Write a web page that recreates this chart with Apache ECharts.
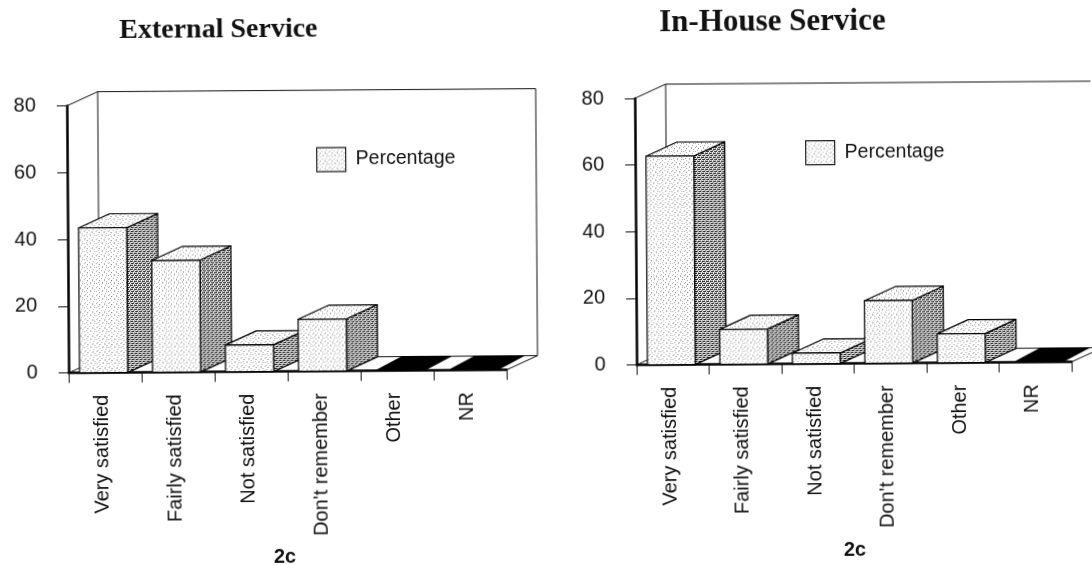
<!DOCTYPE html>
<html><head><meta charset="utf-8">
<style>html,body{margin:0;padding:0;background:#fff;overflow:hidden}#c{width:1092px;height:565px;transform:rotate(-0.4deg);transform-origin:546px 282px}</style>
<script src="https://cdn.jsdelivr.net/npm/echarts@6/dist/echarts.min.js"></script>
</head><body><div id="c"></div>
<script>
const categories = ["Very satisfied","Fairly satisfied","Not satisfied","Don't remember","Other","NR"];
const externalValues = [43.4, 33.5, 8, 15.6, 0, 0];
const inHouseValues = [62.6, 10.5, 3.2, 18.8, 8.7, 0];
const yTicks = {min:0, max:80, interval:20};
const seriesName = "Percentage";

function tile(rows, dark){
  const c = document.createElement('canvas');
  c.height = rows.length; c.width = rows[0].length;
  const g = c.getContext('2d');
  g.fillStyle = '#fff'; g.fillRect(0,0,c.width,c.height);
  rows.forEach((r,y)=>{ for(let x=0;x<r.length;x++){ if(r[x]!=='.'){ g.fillStyle = r[x]==='#'?dark:'#a8a8a8'; g.fillRect(x,y,1,1);} } });
  return c;
}
const lightFill = {image: tile([
  "o.....o...o.",
  "...o........",
  ".........o..",
  ".o...o......",
  "o.......o...",
  "...#....o...",
  "..........o.",
  "..o...o....."], '#777'), repeat:'repeat'};
const darkFill = {image: tile([
  "##.#",
  "o.o.",
  "#.##",
  ".oo.",
  ], '#222'), repeat:'repeat'};

const DX = 31, DY = 14;
const stroke = {stroke:'#000', lineWidth:1.2, lineJoin:'round'};

function poly(pts, fill){
  return {type:'polygon', shape:{points:pts}, style:Object.assign({fill:fill}, stroke)};
}
function renderBar(params, api){
  const i = api.value(0), v = api.value(1);
  const band = api.size([1,0])[0];
  const c = api.coord([i, v]), b = api.coord([i, 0]);
  const w = band * 0.66;
  if (v === 0) {
    const x0 = c[0] - band*0.27, bw = band*0.67, s = DX*0.8;
    return {type:'polygon', shape:{points:[[x0,b[1]-1],[x0+bw,b[1]-1],[x0+bw+s,b[1]-DY],[x0+s,b[1]-DY]]},
      style:{fill:'#000', stroke:'#000', lineWidth:1}};
  }
  const x0 = c[0] - w/2 - 1.5, x1 = x0 + w, t = c[1], y = b[1];
  return {type:'group', children:[
    poly([[x1,y],[x1+DX,y-DY],[x1+DX,t-DY],[x1,t]], darkFill),
    poly([[x0,t],[x1,t],[x1+DX,t-DY],[x0+DX,t-DY]], lightFill),
    poly([[x0,t],[x1,t],[x1,y],[x0,y]], lightFill)
  ]};
}
function renderWall(params){
  const s = params.coordSys, l = s.x, r = s.x+s.width, t = s.y, b = s.y+s.height;
  const line = pts => ({type:'polyline', shape:{points:pts}, style:{fill:null, stroke:'#111', lineWidth:1}});
  return {type:'group', children:[
    line([[l,t],[l+DX,t-DY],[r+DX,t-DY],[r+DX,b-DY],[r,b]]),
    line([[l+DX,t-DY],[l+DX,b-DY],[r+DX,b-DY]]),
    line([[l,b],[l+DX,b-DY]])
  ]};
}
const labelFont = {fontFamily:'"Liberation Sans"', fontSize:20, color:'#111'};
const grids = [
  {left:68, top:102.6, width:438, height:267},
  {left:636, top:99, width:435, height:266.6}
];
const xAxes = [0,1].map(g=>({
  type:'category', gridIndex:g, data:categories, boundaryGap:true,
  axisLine:{show:true, onZero:false, lineStyle:{color:'#000', width:2.5}},
  axisTick:{show:true, alignWithLabel:false, inside:false, length:10, lineStyle:{color:'#111', width:1}},
  axisLabel:Object.assign({rotate:90, interval:0, margin:22, hideOverlap:false, verticalAlign:'bottom', lineHeight:6}, labelFont)
}));
const yAxes = [0,1].map(g=>({
  type:'value', gridIndex:g, min:yTicks.min, max:yTicks.max, interval:yTicks.interval,
  splitLine:{show:false},
  axisLine:{show:true, lineStyle:{color:'#000', width:2.5}},
  axisTick:{show:true, length:10, lineStyle:{color:'#111', width:1}},
  axisLabel:Object.assign({margin:31}, labelFont)
}));
function barSeries(g, values){
  return {type:'custom', name:seriesName, xAxisIndex:g, yAxisIndex:g, z:3, clip:false, silent:true, animation:false,
    itemStyle:{color:'#ddd'}, renderItem:renderBar,
    encode:{x:0,y:1}, data:values.map((v,i)=>[i,v])};
}
function wallSeries(g){
  return {type:'custom', name:'wall', xAxisIndex:g, yAxisIndex:g, z:1, clip:false, silent:true, animation:false,
    renderItem:renderWall, encode:{x:0,y:1}, data:[[0,0]]};
}
function legend(left, top){
  return {data:[seriesName], left:left, top:top, padding:0, itemWidth:29, itemHeight:24, selectedMode:false,
    icon:'rect', itemStyle:{color:lightFill, borderColor:'#222', borderWidth:1.2},
    textStyle:{fontFamily:'"Liberation Sans"', fontSize:19.5, color:'#111', padding:[0,0,0,5]}};
}
const titleFont = size => ({fontFamily:'"Liberation Serif"', fontWeight:'bold', fontSize:size, color:'#111'});
const noteFont = {fontFamily:'"Liberation Sans"', fontWeight:'bold', fontSize:20, color:'#111'};
const chart = echarts.init(document.getElementById('c'), null, {renderer:'canvas', width:1092, height:565});
chart.setOption({
  backgroundColor:'#fff', animation:false,
  title:[
    {text:'External Service', left:121, top:14, padding:0, textStyle:titleFont(28)},
    {text:'In-House Service', left:661, top:8, padding:0, textStyle:titleFont(31)},
    {text:'2c', left:272, top:545, padding:0, textStyle:noteFont},
    {text:'2c', left:842, top:542, padding:0, textStyle:noteFont}
  ],
  legend:[legend(317,145.5), legend(806,142)],
  tooltip:{show:false},
  grid:grids, xAxis:xAxes, yAxis:yAxes,
  series:[wallSeries(0), barSeries(0, externalValues), wallSeries(1), barSeries(1, inHouseValues)]
});
</script></body></html>
